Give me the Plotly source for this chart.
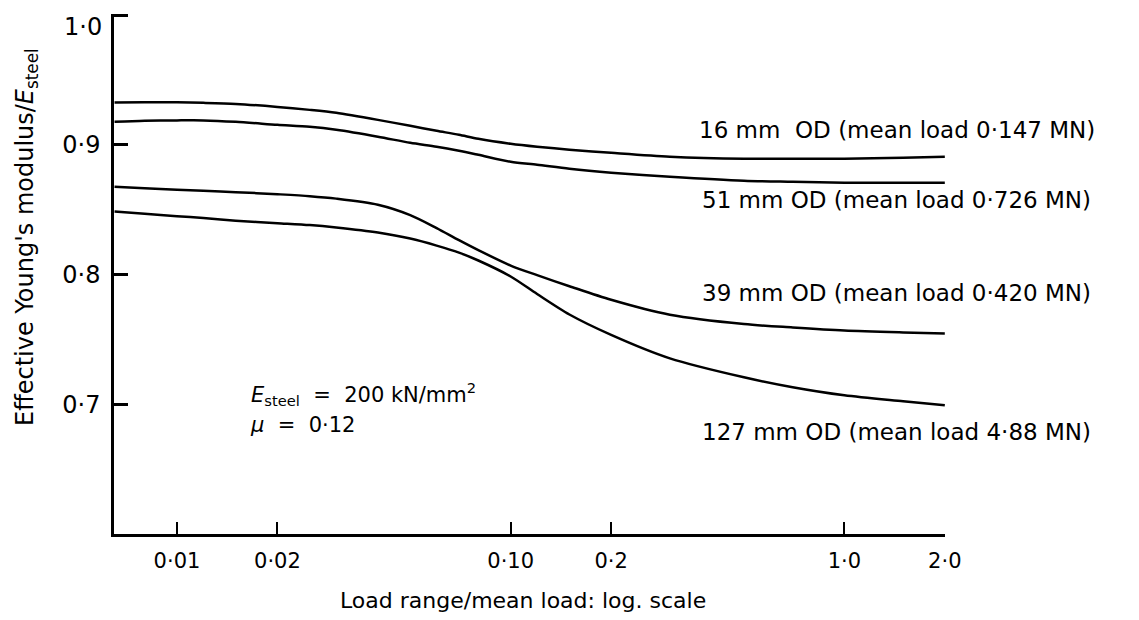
import plotly.graph_objects as go

# Load range / mean load (log scale)
load_ratio = [0.0065, 0.008, 0.01, 0.012, 0.015, 0.02, 0.025, 0.03, 0.04, 0.05, 0.06,
              0.07, 0.08, 0.1, 0.12, 0.15, 0.2, 0.3, 0.5, 0.7, 1.0, 1.5, 2.0]

# Effective Young's modulus / E_steel
od16 = [0.9325, 0.9327, 0.9327, 0.9323, 0.9315, 0.9292, 0.9269, 0.9246, 0.9192, 0.9146, 0.9108,
        0.9077, 0.9046, 0.9008, 0.8985, 0.8962, 0.8938, 0.8908, 0.8892, 0.8892, 0.8892, 0.8900, 0.8908]
od51 = [0.9177, 0.9185, 0.9188, 0.9188, 0.9177, 0.9154, 0.9138, 0.9115, 0.9062, 0.9015, 0.8985,
        0.8954, 0.8923, 0.8869, 0.8846, 0.8815, 0.8785, 0.8754, 0.8723, 0.8715, 0.8708, 0.8708, 0.8708]
od39 = [0.8677, 0.8665, 0.8654, 0.8646, 0.8635, 0.8619, 0.8604, 0.8585, 0.8538, 0.8458, 0.8358,
        0.8265, 0.8188, 0.8069, 0.7995, 0.7910, 0.7805, 0.7690, 0.7618, 0.7592, 0.7569, 0.7554, 0.7546]
od127 = [0.8485, 0.8469, 0.8450, 0.8435, 0.8415, 0.8396, 0.8381, 0.8362, 0.8323, 0.8277, 0.8223,
         0.8169, 0.8108, 0.7985, 0.7850, 0.7692, 0.7535, 0.7354, 0.7208, 0.7131, 0.7069, 0.7023, 0.6992]

series_names = ["16 mm&nbsp; OD (mean load 0·147 MN)",
                "51 mm OD (mean load 0·726 MN)",
                "39 mm OD (mean load 0·420 MN)",
                "127 mm OD (mean load 4·88 MN)"]
series_values = [od16, od51, od39, od127]
label_y = [0.777, 0.642, 0.4635, 0.196]  # paper coords of curve labels

x_tickvals = [0.01, 0.02, 0.1, 0.2, 1.0, 2.0]
x_ticktext = ["0·01", "0·02", "0·10", "0·2", "1·0", "2·0"]
y_tickvals = [0.7, 0.8, 0.9, 1.0]
y_ticktext = ["0·7", "0·8", "0·9", ""]
y_top_label = "1·0"  # drawn slightly below its tick, as in the original

FONT = "DejaVu Sans"

fig = go.Figure()
for name, vals in zip(series_names, series_values):
    fig.add_trace(go.Scatter(x=load_ratio, y=vals, mode="lines", name=name,
                             line=dict(color="black", width=2.5, shape="spline", smoothing=0.8),
                             hoverinfo="skip"))

annotations = []
for name, ly in zip(series_names, label_y):
    annotations.append(dict(text=name, xref="paper", yref="paper", x=0.942, y=ly,
                            xanchor="center", yanchor="middle", showarrow=False,
                            font=dict(family=FONT, size=23, color="black")))

annotations += [
    dict(text=y_top_label, xref="paper", yref="paper", x=-0.012, y=0.975,
         xanchor="right", yanchor="middle", showarrow=False,
         font=dict(family=FONT, size=24, color="black")),
    dict(text="<i>E</i><sub>steel</sub> &nbsp;= &nbsp;200 kN/mm<sup>2</sup>", xref="paper", yref="paper",
         x=0.162, y=0.269, xanchor="left", yanchor="middle", showarrow=False,
         font=dict(family=FONT, size=21, color="black")),
    dict(text="<i>μ</i> &nbsp;= &nbsp;0·12", xref="paper", yref="paper",
         x=0.161, y=0.210, xanchor="left", yanchor="middle", showarrow=False,
         font=dict(family=FONT, size=21, color="black")),
    dict(text="Effective Young's modulus/<i>E</i><sub>steel</sub>", xref="paper", yref="paper",
         x=-0.106, y=0.571, xanchor="center", yanchor="middle", textangle=-90, showarrow=False,
         font=dict(family=FONT, size=24, color="black")),
    dict(text="Load range/mean load: log. scale", xref="paper", yref="paper",
         x=0.492, y=-0.127, xanchor="center", yanchor="middle", showarrow=False,
         font=dict(family=FONT, size=22, color="black")),
]

fig.update_layout(
    width=1139, height=620,
    margin=dict(l=106, r=202, t=6, b=94),
    paper_bgcolor="white", plot_bgcolor="white",
    showlegend=False,
    annotations=annotations,
    xaxis=dict(type="log", range=[-2.1887, 0.3016], automargin=False,
               tickvals=x_tickvals, ticktext=x_ticktext,
               ticks="inside", ticklen=12, tickwidth=2, tickcolor="black",
               showline=True, linecolor="black", linewidth=2.5,
               showgrid=False, zeroline=False, ticklabelstandoff=6,
               ticklabeloverflow="allow",
               tickfont=dict(family=FONT, size=21, color="black")),
    yaxis=dict(range=[0.6, 1.0008], automargin=False,
               tickvals=y_tickvals, ticktext=y_ticktext,
               ticks="inside", ticklen=14, tickwidth=2.5, tickcolor="black",
               showline=True, linecolor="black", linewidth=2.5,
               showgrid=False, zeroline=False, ticklabelstandoff=6,
               ticklabeloverflow="allow",
               tickfont=dict(family=FONT, size=24, color="black")),
)

fig.write_html("out.html")
